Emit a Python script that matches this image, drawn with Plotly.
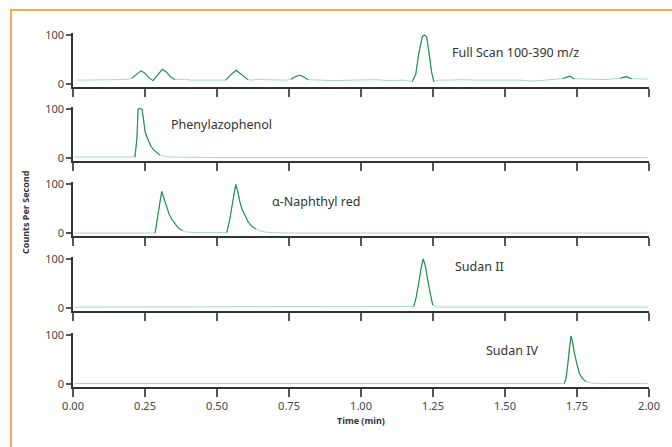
import plotly.graph_objects as go

# ---------------- data ----------------
full_t = [0.014, 0.05, 0.10, 0.14, 0.17, 0.19, 0.205, 0.22, 0.236, 0.25, 0.265, 0.278, 0.29, 0.31,
          0.325, 0.34, 0.354, 0.37, 0.39, 0.41, 0.43, 0.46, 0.50, 0.53, 0.55, 0.567, 0.585, 0.607,
          0.62, 0.64, 0.66, 0.70, 0.74, 0.757, 0.775, 0.787, 0.80, 0.816, 0.83, 0.86, 0.90, 0.95,
          1.00, 1.05, 1.10, 1.15, 1.178, 1.19, 1.20, 1.213, 1.22, 1.228, 1.236, 1.245, 1.253, 1.27,
          1.30, 1.35, 1.40, 1.45, 1.50, 1.55, 1.60, 1.65, 1.70, 1.725, 1.74, 1.80, 1.85, 1.90, 1.92,
          1.94, 1.995]
full_v = [8, 8, 8, 9, 9, 10, 12, 20, 27, 22, 12, 7, 16, 30,
          24, 14, 9, 9, 10, 8, 8, 9, 8, 8, 20, 28, 20, 9,
          8, 10, 9, 9, 8, 10, 16, 18, 15, 9, 9, 8, 7, 8,
          8, 9, 7, 8, 5, 20, 60, 97, 100, 96, 65, 25, 5, 8,
          8, 9, 8, 8, 7, 8, 6, 8, 11, 16, 11, 10, 9, 12, 15,
          11, 10]

phen_t = [0.005, 0.10, 0.20, 0.215, 0.222, 0.226, 0.232, 0.24, 0.245, 0.25, 0.256, 0.262, 0.27,
          0.279, 0.29, 0.302, 0.32, 0.35, 0.5, 1.0, 1.5, 1.995]
phen_v = [2, 2, 2, 2, 40, 100, 101, 99, 80, 55, 44, 34, 25,
          17, 11, 6, 3, 2, 1, 1, 1, 1]

naph_t = [0.005, 0.2, 0.285, 0.295, 0.303, 0.308, 0.315, 0.325, 0.334, 0.343, 0.355, 0.366, 0.38,
          0.395, 0.43, 0.5, 0.534, 0.545, 0.555, 0.565, 0.572, 0.58, 0.588, 0.597, 0.608, 0.62,
          0.635, 0.649, 0.68, 0.75, 1.0, 1.5, 1.995]
naph_v = [0, 0, 0, 40, 70, 85, 72, 52, 38, 28, 18, 10, 5,
          2, 1, 0, 1, 30, 65, 99, 85, 62, 47, 35, 23, 14,
          8, 4, 1, 0, 0, 0, 0]

sud2_t = [0.005, 0.5, 1.0, 1.17, 1.183, 1.191, 1.2, 1.208, 1.216, 1.224, 1.232, 1.24, 1.249,
          1.263, 1.4, 1.995]
sud2_v = [2, 2, 2, 2, 3, 20, 50, 80, 100, 85, 55, 31, 6,
          2, 2, 2]

sud4_t = [0.005, 0.5, 1.0, 1.11, 1.13, 1.15, 1.5, 1.65, 1.706, 1.712, 1.717, 1.723, 1.729, 1.735,
          1.741, 1.75, 1.758, 1.768, 1.781, 1.80, 1.839, 1.995]
sud4_v = [1, 1, 1, 1, 2, 1, 1, 1, 1, 12, 35, 75, 98, 85,
          63, 40, 22, 12, 5, 2, 1, 1]

labels = ["Full Scan 100-390 m/z", "Phenylazophenol", "\u03b1-Naphthyl red", "Sudan II", "Sudan IV"]
label_t = [1.309, 0.333, 0.684, 1.318, 1.428]
label_v = [65, 69, 65, 84, 69]

x_ticks = [0.0, 0.25, 0.5, 0.75, 1.0, 1.25, 1.5, 1.75, 2.0]
x_ticktext = ["0.00", "0.25", "0.50", "0.75", "1.00", "1.25", "1.50", "1.75", "2.00"]
y_ticks = [0, 100]

series = [(full_t, full_v), (phen_t, phen_v), (naph_t, naph_v), (sud2_t, sud2_v), (sud4_t, sud4_v)]

# ---------------- layout geometry ----------------
W, H = 672, 447
X0, X1 = 73, 649
bottoms = [87, 161, 236, 311, 387]
panel_h = 54

LIGHT = "#a9d8bf"
DARK = "#1f8f4e"
TXT = "#3a3a3a"
FONT = "Noto Sans"

fig = go.Figure()
layout = dict(
    width=W, height=H, margin=dict(l=0, r=0, t=0, b=0, autoexpand=False),
    paper_bgcolor="white", plot_bgcolor="white", showlegend=False,
    font=dict(family=FONT, color=TXT, size=11),
)

annotations = []
for i, (t, v) in enumerate(series):
    n = i + 1
    xa = "x" if n == 1 else f"x{n}"
    ya = "y" if n == 1 else f"y{n}"
    base = min(v)
    thr = base + 8
    dark = []
    for k in range(len(v)):
        near = [v[j] for j in (k - 1, k, k + 1) if 0 <= j < len(v)]
        dark.append(v[k] if max(near) > thr else None)
    fig.add_trace(go.Scatter(x=t, y=v, mode="lines", line=dict(color=LIGHT, width=1),
                             xaxis=xa, yaxis=ya, hoverinfo="skip"))
    fig.add_trace(go.Scatter(x=t, y=dark, mode="lines", line=dict(color=DARK, width=1.1),
                             connectgaps=False, xaxis=xa, yaxis=ya, hoverinfo="skip"))

    bottom = bottoms[i]
    top = bottom - panel_h
    last = (i == len(series) - 1)
    layout["xaxis" if n == 1 else f"xaxis{n}"] = dict(
        domain=[X0 / W, X1 / W], range=[0, 2], anchor=ya, automargin=False,
        showline=True, linecolor="#333333", linewidth=1.5,
        ticks="outside", ticklen=8, tickwidth=1.5, tickcolor="#555555",
        tickvals=x_ticks, ticktext=x_ticktext, showticklabels=last,
        tickfont=dict(size=11, color="#444444", family=FONT),
        showgrid=False, zeroline=False, fixedrange=True,
    )
    layout["yaxis" if n == 1 else f"yaxis{n}"] = dict(
        domain=[1 - bottom / H, 1 - top / H], range=[-6, 104], anchor=xa, automargin=False,
        showline=True, linecolor="#333333", linewidth=1.5,
        ticks="outside", ticklen=5, tickwidth=1.5, tickcolor="#555555",
        tickvals=y_ticks, tickfont=dict(size=11, color="#444444", family=FONT),
        showgrid=False, zeroline=False, fixedrange=True,
    )
    annotations.append(dict(x=label_t[i], y=label_v[i], xref=xa, yref=ya, text=labels[i],
                            showarrow=False, xanchor="left", yanchor="middle",
                            font=dict(size=12.5, color="#333333", family=FONT)))

annotations.append(dict(x=(X0 + X1) / 2 / W, y=1 - 420 / H, xref="paper", yref="paper",
                        text="<b>Time (min)</b>", showarrow=False, xanchor="center",
                        yanchor="middle", font=dict(size=9, color="#333333", family=FONT)))
annotations.append(dict(x=25 / W, y=1 - 212 / H, xref="paper", yref="paper",
                        text="<b>Counts Per Second</b>", showarrow=False, textangle=-90,
                        xanchor="center", yanchor="middle",
                        font=dict(size=9, color="#333333", family=FONT)))
layout["annotations"] = annotations

layout["shapes"] = [dict(type="rect", xref="paper", yref="paper",
                         x0=11 / W, x1=690 / W, y0=-20 / H, y1=1 - 10 / H,
                         line=dict(color="#f7a94f", width=2), fillcolor="rgba(0,0,0,0)",
                         layer="below")]

fig.update_layout(**layout)
fig.write_html("out.html")
